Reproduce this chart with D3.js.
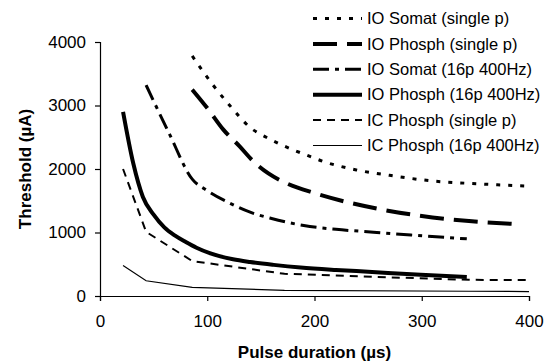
<!DOCTYPE html>
<html>
<head>
<meta charset="utf-8">
<script src="https://cdn.jsdelivr.net/npm/d3@7"></script>
<style>
  body { margin: 0; background: #fff; }
  text { font-family: "Liberation Sans", Arial, sans-serif; fill: #000; }
</style>
</head>
<body>
<div id="chart"></div>
<script>
// series names, in legend order
const seriesNames = [
    'IO Somat (single p)',
    'IO Phosph (single p)',
    'IO Somat (16p 400Hz)',
    'IO Phosph (16p 400Hz)',
    'IC Phosph (single p)',
    'IC Phosph (16p 400Hz)'
];

// [pulse duration (µs), threshold (µA)]
const ioSomatSingle = [[86,3780],[105,3330],[121,3000],[141,2640],[155,2500],[168,2390],[194,2210],[208,2120],[239,1985],[270,1900],[308,1815],[354,1765],[400,1730]];
const ioPhosphSingle = [[86,3250],[100,2960],[115,2620],[130,2360],[143,2120],[157,1930],[172,1790],[200,1620],[230,1480],[260,1370],[300,1260],[344,1180],[391,1130]];
const ioSomat16p = [[43,3320],[64.5,2560],[86,1840],[100,1660],[120,1470],[140,1320],[160,1220],[190,1110],[220,1050],[255,1005],[290,960],[342,900]];
const ioPhosph16p = [[21.5,2900],[31,2090],[40,1560],[50,1280],[60,1080],[70,950],[80,850],[90,760],[103,670],[124,578],[140,535],[162,490],[187,448],[220,410],[250,382],[299,335],[342,300]];
const icPhosphSingle = [[21.5,2000],[43,1010],[86,550],[172,350],[258,300],[344,255],[400,250]];
const icPhosph16p = [[21.5,480],[43,240],[86,135],[172,90],[344,75],[400,70]];

const xTicks = [0, 100, 200, 300, 400];
const yTicks = [0, 1000, 2000, 3000, 4000];

const allSeries = [ioSomatSingle, ioPhosphSingle, ioSomat16p, ioPhosph16p, icPhosphSingle, icPhosph16p];

// line styles per series
const styles = [
    { width: 3, dash: '4,8', curve: d3.curveMonotoneX },
    { width: 4, dash: '24,10', curve: d3.curveMonotoneX },
    { width: 3, dash: '16,6,4,6', curve: d3.curveMonotoneX },
    { width: 4, dash: null, curve: d3.curveMonotoneX },
    { width: 2, dash: '8,6', curve: d3.curveLinear },
    { width: 1.2, dash: null, curve: d3.curveLinear }
];

const W = 550, H = 362;
const margin = { top: 42, right: 21, bottom: 66, left: 100 };
const width = W - margin.left - margin.right;
const height = H - margin.top - margin.bottom;

const svg = d3.select('#chart')
    .append('svg')
    .attr('width', W)
    .attr('height', H);

const g = svg.append('g')
    .attr('transform', `translate(${margin.left},${margin.top})`);

const xScale = d3.scaleLinear().domain([0, 400]).range([0, width]);
const yScale = d3.scaleLinear().domain([0, 4000]).range([height, 0]);

// axes
const xAxis = g.append('g')
    .attr('transform', `translate(0,${height})`)
    .call(d3.axisBottom(xScale).tickValues(xTicks).tickSize(5).tickPadding(14));
const yAxis = g.append('g')
    .call(d3.axisLeft(yScale).tickValues(yTicks).tickSize(5).tickPadding(9).tickFormat(d3.format('d')));

[xAxis, yAxis].forEach(ax => {
    ax.selectAll('text')
        .style('font-family', '"Liberation Sans", Arial, sans-serif')
        .style('font-size', '17px')
        .attr('fill', '#000');
    ax.selectAll('line').attr('stroke', '#000').attr('stroke-width', 1.2);
    ax.select('.domain').attr('stroke', '#000').attr('stroke-width', 1.2);
});

// series lines
allSeries.forEach((data, i) => {
    const s = styles[i];
    const line = d3.line()
        .x(d => xScale(d[0]))
        .y(d => yScale(d[1]))
        .curve(s.curve);
    g.append('path')
        .datum(data)
        .attr('fill', 'none')
        .attr('stroke', '#000')
        .attr('stroke-width', s.width)
        .attr('stroke-dasharray', s.dash)
        .attr('d', line);
});

// legend
const legend = svg.append('g')
    .attr('transform', 'translate(313,18.5)');
seriesNames.forEach((name, i) => {
    const row = legend.append('g').attr('transform', `translate(0,${i * 25.4})`);
    row.append('line')
        .attr('x1', 0).attr('x2', 49)
        .attr('y1', 0).attr('y2', 0)
        .attr('stroke', '#000')
        .attr('stroke-width', styles[i].width)
        .attr('stroke-dasharray', styles[i].dash);
    row.append('text')
        .attr('x', 54)
        .attr('y', 0)
        .attr('dy', '0.35em')
        .style('font-size', '16.5px')
        .text(name);
});

// axis titles
svg.append('text')
    .attr('x', margin.left + width / 2)
    .attr('y', 358)
    .attr('text-anchor', 'middle')
    .style('font-size', '17px')
    .style('font-weight', 'bold')
    .text('Pulse duration (µs)');

svg.append('text')
    .attr('transform', `translate(31,${margin.top + height / 2}) rotate(-90)`)
    .attr('text-anchor', 'middle')
    .style('font-size', '17px')
    .style('font-weight', 'bold')
    .text('Threshold (µA)');
</script>
</body>
</html>
